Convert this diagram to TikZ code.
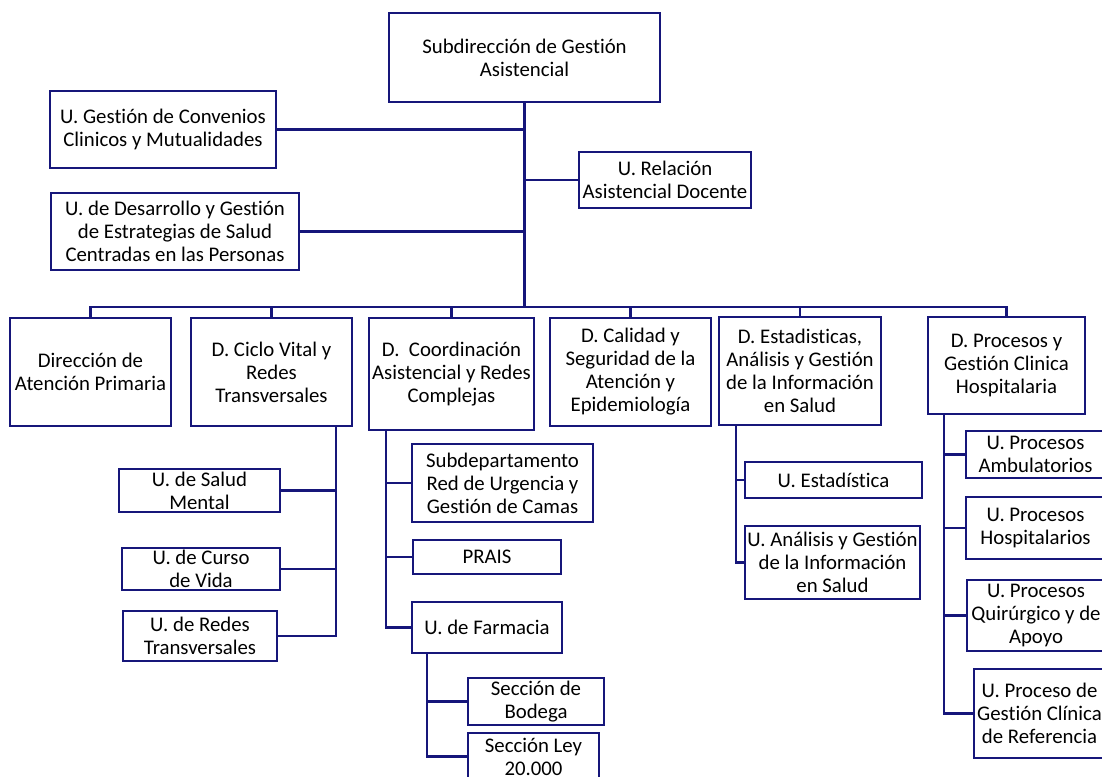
\documentclass[tikz,border=0pt]{standalone}
\usepackage{fontspec}
\setmainfont{Carlito}[Ligatures=NoCommon]
\definecolor{navyline}{RGB}{22,22,122}
\tikzset{
  bx/.style={draw=navyline, line width=1.7pt, fill=white, align=center, inner sep=0pt,
    font=\fontsize{15.6}{17.25}\selectfont, text=black},
  conn/.style={draw=navyline, line width=1.6pt},
}
\newcommand\bx[6]{\node[bx, minimum width={(#4-#2)*0.75pt}, minimum height={(#5-#3)*0.75pt}] (#1) at ({(#2+#4)/2},{(#3+#5)/2}) {#6};}
\begin{document}
\begin{tikzpicture}[x=0.75pt,y=-0.75pt]
\useasboundingbox (0,0) rectangle (1102,777);
\fill[white] (0,0) rectangle (1102,777);
\clip (0,0) rectangle (1102,777);
% top
\bx{top}{389}{13}{660}{102}{Subdirección de Gestión\\Asistencial}
\bx{conv}{50}{91}{276}{168}{U. Gestión de Convenios\\Clinicos y Mutualidades}
\bx{desa}{51}{193}{299}{270}{U. de Desarrollo y Gestión\\de Estrategias de Salud\\Centradas en las Personas}
\bx{rel}{579}{152}{751}{208}{U. Relación\\Asistencial Docente}
% second level
\bx{d1}{10}{318}{171}{426}{Dirección de\\Atención Primaria}
\bx{d2}{191}{318}{352}{426}{D. Ciclo Vital y\\Redes\\Transversales}
\bx{d3}{369}{318}{534}{430}{D.\ \ Coordinación\\Asistencial y Redes\\Complejas}
\bx{d4}{550}{318}{711}{426}{D. Calidad y\\Seguridad de la\\Atención y\\Epidemiología}
\bx{d5}{719}{317}{881}{425}{D. Estadisticas,\\Análisis y Gestión\\de la Información\\en Salud}
\bx{d6}{928}{317}{1085}{414}{D. Procesos y\\Gestión Clinica\\Hospitalaria}
% ciclo vital children
\bx{sm}{119}{469}{280}{512}{U. de Salud\\Mental}
\bx{cv}{122}{548}{280}{590}{U. de Curso\\de Vida}
\bx{rt}{123}{611}{277}{661}{U. de Redes\\Transversales}
% coordinacion children
\bx{sub}{412}{444}{593}{522}{Subdepartamento\\Red de Urgencia y\\Gestión de Camas}
\bx{prais}{413}{540}{561}{574}{PRAIS}
\bx{farm}{412}{602}{562}{653}{U. de Farmacia}
\bx{bod}{468}{678}{604}{725}{Sección de\\Bodega}
\bx{ley}{468}{733}{599}{780}{Sección Ley\\20.000}
% estadisticas children
\bx{est}{745}{462}{922}{498}{U. Estadística}
\bx{ana}{745}{526}{920}{599}{U. Análisis y Gestión\\de la Información\\en Salud}
% procesos children
\bx{pa}{966}{431}{1105}{478}{U. Procesos\\Ambulatorios}
\bx{ph}{966}{497}{1105}{559}{U. Procesos\\Hospitalarios}
\bx{pq}{967}{580}{1105}{651}{U. Procesos\\Quirúrgico y de\\Apoyo}
\bx{pr}{974}{669}{1105}{758}{U. Proceso de\\Gestión Clínica\\de Referencia}
% coordinates
\coordinate (bus) at (524.5,307);
\coordinate (c2) at (336,426);
\coordinate (c3) at (386,430);
\coordinate (cf) at (427,653);
\coordinate (c5) at (736,425);
\coordinate (c6) at (944,414);
% connectors
\draw[conn] (top.south) -- (bus);
\draw[conn] (conv.east) -- (conv.east -| top.south);
\draw[conn] (desa.east) -- (desa.east -| top.south);
\draw[conn] (rel.west) -- (rel.west -| top.south);
\foreach \d in {d1,d2,d3,d4,d5,d6} \draw[conn] (bus) -| (\d.north);
\draw[conn] (c2) |- (rt.east);
\draw[conn] (sm.east) -- (sm.east -| c2);
\draw[conn] (cv.east) -- (cv.east -| c2);
\draw[conn] (c3) |- (farm.west);
\draw[conn] (sub.west) -- (sub.west -| c3);
\draw[conn] (prais.west) -- (prais.west -| c3);
\draw[conn] (cf) |- (ley.west);
\draw[conn] (bod.west) -- (bod.west -| cf);
\draw[conn] (c5) |- (ana.west);
\draw[conn] (est.west) -- (est.west -| c5);
\draw[conn] (c6) |- (pr.west);
\draw[conn] (pa.west) -- (pa.west -| c6);
\draw[conn] (ph.west) -- (ph.west -| c6);
\draw[conn] (pq.west) -- (pq.west -| c6);
\end{tikzpicture}
\end{document}
